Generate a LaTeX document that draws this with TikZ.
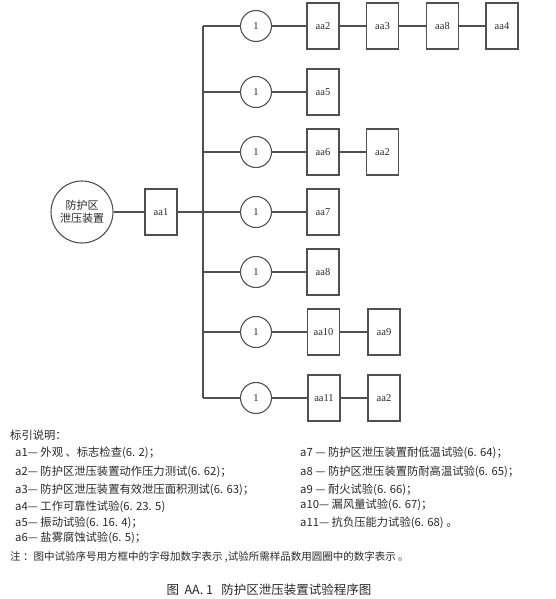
\documentclass[tikz,border=0pt]{standalone}
\usepackage{fontspec}
\setmainfont{Liberation Serif}
\newfontfamily\cjk{Noto Sans CJK SC}
\definecolor{ln}{RGB}{80,80,80}
\definecolor{tx}{RGB}{40,40,40}
\begin{document}
\begin{tikzpicture}[x=1pt,y=-1pt,
  every node/.style={text=tx},
  conn/.style={draw=ln,line width=1.1pt},
  testbox/.style={draw=ln,line width=1.1pt,minimum width=32pt,minimum height=46pt,inner sep=0pt,font=\fontsize{10.5}{12}\selectfont},
  smpl/.style={circle,draw=ln,line width=1.1pt,minimum size=31pt,inner sep=0pt,font=\fontsize{10.5}{12}\selectfont},
  bigc/.style={circle,draw=ln,line width=1.1pt,minimum size=62pt,inner sep=0pt,align=center,font=\cjk\fontsize{11}{13.5}\selectfont},
  legend/.style={anchor=west,inner sep=0pt,font=\cjk\fontsize{11.3}{13}\selectfont}]
\useasboundingbox (0,0) rectangle (555,599);
% main nodes
\node[bigc] (dev) at (82,212) {防护区\\泄压装置};
\node[testbox] (a1) at (161,212) {aa1};
\foreach \i/\y in {1/26,2/92,3/152,4/212,5/272,6/332,7/398}{
  \coordinate (t\i) at (203,\y);
  \node[smpl] (s\i) at (256,\y) {1};
}
% row 1
\node[testbox] (r1a) at (323,26) {aa2};
\node[testbox] (r1b) at (382.5,26) {aa3};
\node[testbox] (r1c) at (442.5,26) {aa8};
\node[testbox] (r1d) at (502,26) {aa4};
% row 2
\node[testbox] (r2a) at (323,92) {aa5};
% row 3
\node[testbox] (r3a) at (323,152) {aa6};
\node[testbox] (r3b) at (382.5,152) {aa2};
% row 4
\node[testbox] (r4a) at (323,212) {aa7};
% row 5
\node[testbox] (r5a) at (323,272) {aa8};
% row 6
\node[testbox] (r6a) at (323.5,332) {aa10};
\node[testbox] (r6b) at (384,332) {aa9};
% row 7
\node[testbox] (r7a) at (324,398) {aa11};
\node[testbox] (r7b) at (384,398) {aa2};
% connectors
\draw[conn] (dev) -- (a1);
\draw[conn] (a1) -- (t4);
\draw[conn] (t1) -- (t7);
\foreach \i in {1,...,7}{\draw[conn] (t\i) -- (s\i);}
\draw[conn] (s1) -- (r1a) -- (r1b) -- (r1c) -- (r1d);
\draw[conn] (s2) -- (r2a);
\draw[conn] (s3) -- (r3a) -- (r3b);
\draw[conn] (s4) -- (r4a);
\draw[conn] (s5) -- (r5a);
\draw[conn] (s6) -- (r6a) -- (r6b);
\draw[conn] (s7) -- (r7a) -- (r7b);
% legend
\node[legend] (lh) at (10,435) {标引说明：};
\node[legend] (l1) at (15,453) {a1— 外观 、标志检查(6. 2)；};
\node[legend] (l2) at (15,472) {a2— 防护区泄压装置动作压力测试(6. 62)；};
\node[legend] (l3) at (15,490) {a3— 防护区泄压装置有效泄压面积测试(6. 63)；};
\node[legend] (l4) at (15,507) {a4— 工作可靠性试验(6. 23. 5)};
\node[legend] (l5) at (15,523) {a5— 振动试验(6. 16. 4)；};
\node[legend] (l6) at (15,538) {a6— 盐雾腐蚀试验(6. 5)；};
\node[legend] (l7) at (300,453) {a7 — 防护区泄压装置耐低温试验(6. 64)；};
\node[legend] (l8) at (300,472) {a8 — 防护区泄压装置防耐高温试验(6. 65)；};
\node[legend] (l9) at (300,490) {a9 — 耐火试验(6. 66)；};
\node[legend] (l10) at (300,505) {a10— 漏风量试验(6. 67)；};
\node[legend] (l11) at (300,523) {a11— 抗负压能力试验(6. 68) 。};
\node[legend,font=\cjk\fontsize{10.5}{12}\selectfont] (note) at (10,557) {注 ：图中试验序号用方框中的字母加数字表示 ,试验所需样品数用圆圈中的数字表示 。};
\node[inner sep=0pt,font=\cjk\fontsize{12.5}{14}\selectfont] (cap) at (269,590) {图\ \ AA. 1\ \ \ 防护区泄压装置试验程序图};
\end{tikzpicture}
\end{document}
